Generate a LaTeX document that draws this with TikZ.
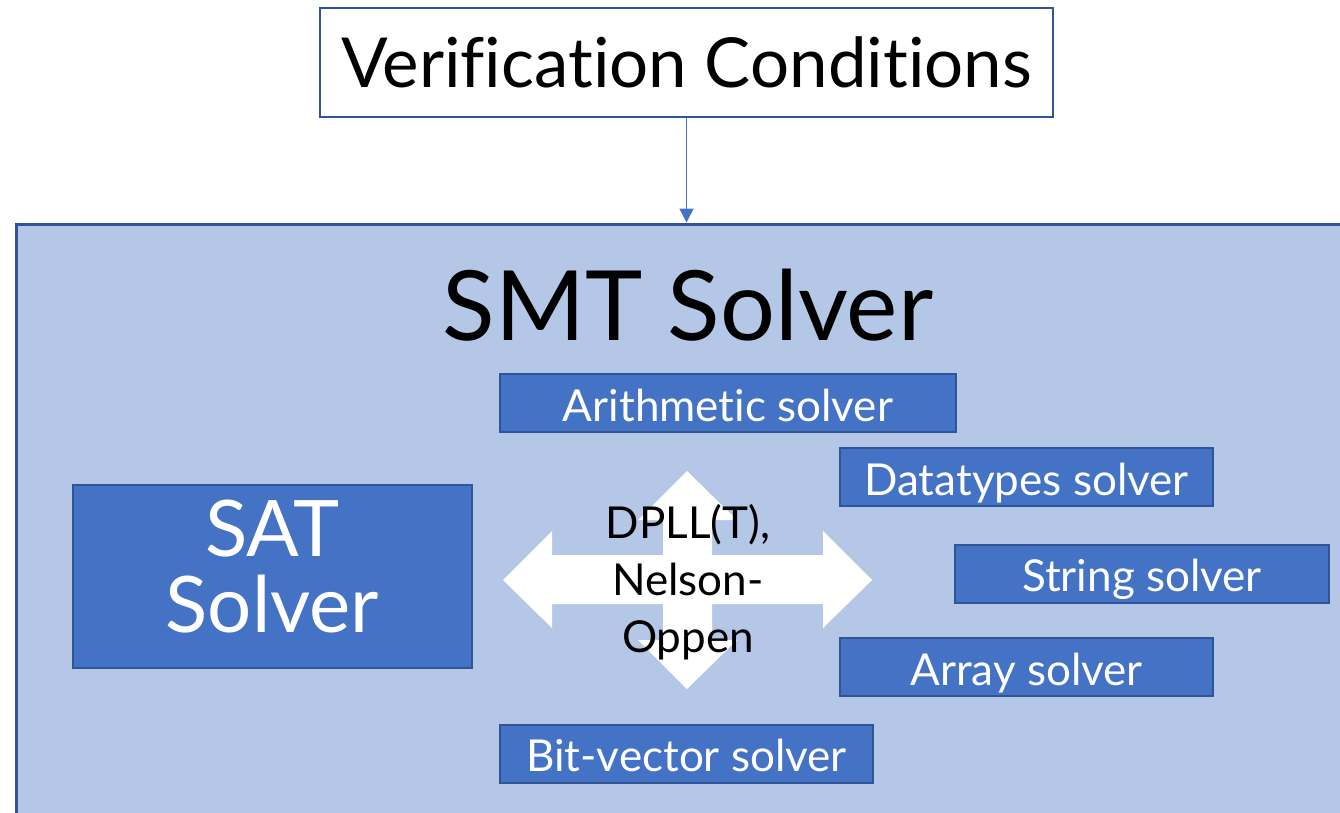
\documentclass[tikz,border=0pt]{standalone}
\usepackage{fontspec}
\setmainfont[Ligatures=NoCommon]{Lato}
\usetikzlibrary{arrows.meta}
\definecolor{lightblue}{HTML}{B4C7E7}
\definecolor{midblue}{HTML}{4472C4}
\definecolor{darkblue}{HTML}{2F5597}
\tikzset{
  solverbox/.style={draw=darkblue, line width=2pt, fill=midblue, text=white, inner sep=0pt,
    font=\fontsize{44}{50}\selectfont, minimum height=58pt, text height=36pt, text depth=0pt},
}
\begin{document}
\begin{tikzpicture}[x=1pt,y=-1pt]
\useasboundingbox (0,0) rectangle (1340,812);
\fill[white] (0,0) rectangle (1340,812);
% verification conditions
\node[draw=darkblue, line width=1.2pt, fill=white, minimum width=733pt, minimum height=109pt, inner sep=0pt,
  font=\fontsize{69}{80}\selectfont] (vc) at (686.5,62.5) {Verification Conditions};
% big box
\node[draw=darkblue, line width=3pt, fill=lightblue, minimum width=1344pt, minimum height=606pt, inner sep=0pt] (smt) at (688,527) {};
\draw[midblue, line width=1.5pt, -{Triangle[length=14pt,width=14pt]}] (vc.south) -- (vc.south |- smt.north);
\node[font=\fontsize{97}{110}\selectfont] (title) at (688,305) {SMT Solver};
% cross arrow
\fill[white] (687,471) -- (737,520) -- (712,520) -- (712,555) -- (823,555) -- (823,531) -- (872,580)
  -- (823,628) -- (823,604) -- (712,604) -- (712,640) -- (737,640) -- (687,689) -- (638,640)
  -- (663,640) -- (663,604) -- (552,604) -- (552,628) -- (503,580) -- (552,531) -- (552,555)
  -- (663,555) -- (663,520) -- (638,520) -- cycle;
\node[align=center, font=\fontsize{44}{57}\selectfont] (dpll) at (688,582) {DPLL(T),\\Nelson-\\Oppen};
% SAT solver
\node[solverbox, minimum width=399pt, minimum height=183pt] (sat) at (272.5,576.5) {};
\node[align=center, text=white, inner sep=0pt, font=\fontsize{78}{76}\selectfont] (satlabel) at (272.5,567) {SAT\\Solver};
% theory solvers
\node[solverbox, minimum width=456pt] (arith) at (728,403) {Arithmetic solver};
\node[solverbox, minimum width=373pt] (dt) at (1026.5,477) {Datatypes solver};
\node[solverbox, minimum width=374pt] (str) at (1142,573.5) {String solver};
\node[solverbox, minimum width=373pt] (arr) at (1026.5,667) {Array solver};
\node[solverbox, minimum width=373pt] (bv) at (686.5,753.5) {Bit-vector solver};
\end{tikzpicture}
\end{document}
